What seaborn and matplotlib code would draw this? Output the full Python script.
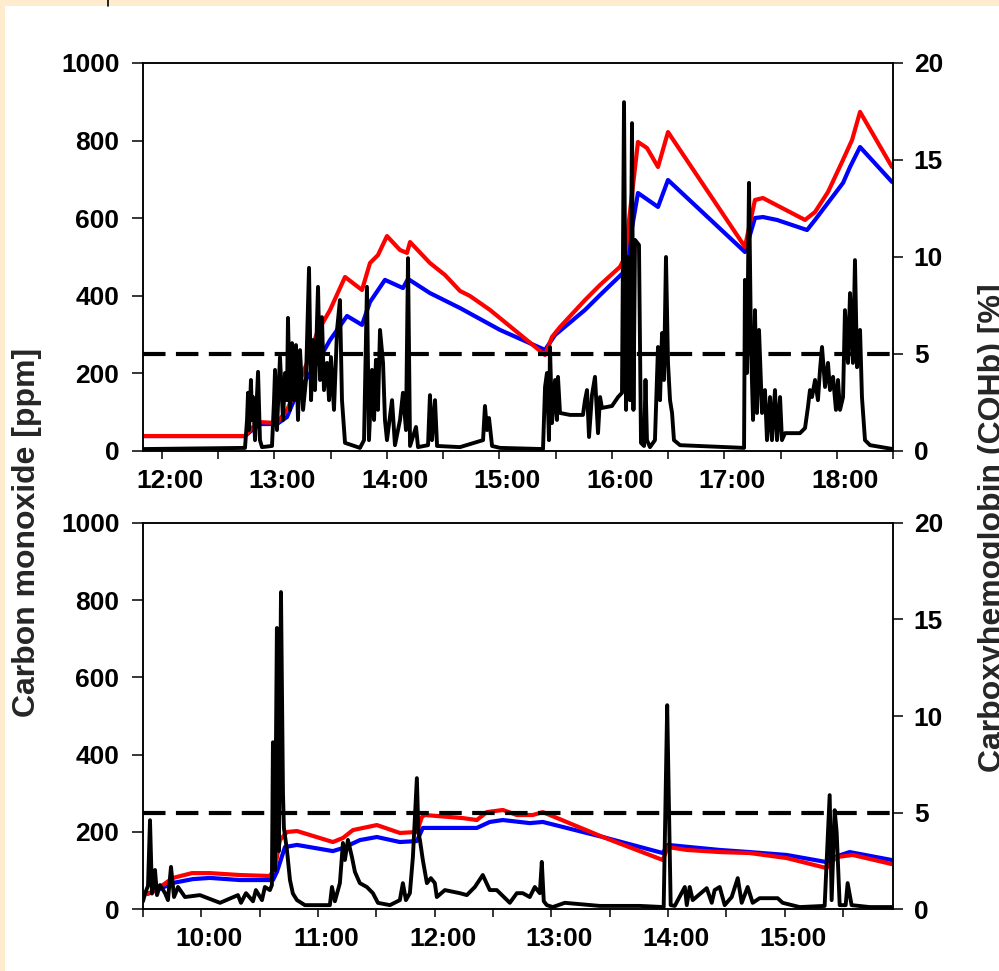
import numpy as np
import pandas as pd
import seaborn as sns
import matplotlib
matplotlib.use("Agg")
import matplotlib.pyplot as plt
from matplotlib.ticker import FixedLocator, FuncFormatter, NullFormatter
from matplotlib.transforms import ScaledTranslation
from matplotlib.patches import Rectangle
from matplotlib.lines import Line2D

# ---------------- data (time in decimal hours) ----------------
THRESHOLD_PPM = 250

# top panel: carbon monoxide [ppm]
top_co_time = [11.833, 12.740, 12.758, 12.767, 12.776, 12.793, 12.802, 12.811, 12.829, 12.856,
               12.873, 12.891, 12.980, 12.998, 13.007, 13.024, 13.051, 13.078, 13.096, 13.113,
               13.122, 13.140, 13.158, 13.176, 13.193, 13.211, 13.229, 13.256, 13.282, 13.309,
               13.327, 13.344, 13.362, 13.389, 13.407, 13.424, 13.442, 13.469, 13.487, 13.504,
               13.531, 13.558, 13.584, 13.602, 13.629, 13.762, 13.798, 13.824, 13.842, 13.869,
               13.887, 13.904, 13.922, 13.940, 13.967, 13.984, 14.002, 14.047, 14.073, 14.118,
               14.144, 14.171, 14.189, 14.207, 14.260, 14.278, 14.367, 14.384, 14.402, 14.429,
               14.447, 14.651, 14.856, 14.873, 14.891, 14.909, 14.936, 15.007, 15.389,
               15.407, 15.424, 15.442, 15.451, 15.469, 15.496, 15.513, 15.522, 15.540, 15.629,
               15.744, 15.762, 15.780, 15.798, 15.824, 15.851, 15.878, 15.896, 15.913, 16.002,
               16.038, 16.056, 16.091, 16.109, 16.127, 16.144, 16.162, 16.180, 16.193, 16.207,
               16.242, 16.260, 16.287, 16.300, 16.313, 16.340, 16.384, 16.411, 16.429, 16.447,
               16.464, 16.482, 16.500, 16.518, 16.536, 16.553, 16.607, 17.176, 17.184, 17.202,
               17.220, 17.238, 17.256, 17.273, 17.291, 17.309, 17.336, 17.362, 17.380, 17.407,
               17.424, 17.451, 17.469, 17.496, 17.513, 17.540, 17.673, 17.718, 17.744, 17.762,
               17.780, 17.807, 17.833, 17.851, 17.869, 17.896, 17.922, 17.940, 17.967, 17.993,
               18.011, 18.029, 18.056, 18.073, 18.100, 18.118, 18.144, 18.162, 18.180, 18.207,
               18.224, 18.251, 18.296, 18.500]
top_co_ppm = [5, 8, 80, 150, 54, 183, 80, 139, 28, 204,
              28, 10, 13, 131, 209, 54, 242, 80, 201, 131,
              343, 106, 278, 131, 273, 80, 260, 106, 183, 472,
              131, 286, 157, 423, 183, 345, 157, 227, 131, 242,
              106, 312, 389, 131, 21, 8, 28, 423, 28, 209,
              80, 235, 106, 312, 227, 80, 28, 131, 15, 80,
              150, 54, 497, 13, 62, 10, 15, 144, 28, 131,
              13, 10, 28, 116, 54, 85, 13, 8, 5,
              165, 201, 28, 268, 72, 183, 80, 191, 98, 93,
              93, 131, 157, 36, 144, 191, 46, 139, 111, 116,
              131, 139, 150, 899, 106, 500, 131, 845, 106, 544,
              531, 21, 13, 183, 28, 10, 28, 268, 131, 304,
              183, 500, 227, 131, 98, 28, 15, 8, 441, 201,
              691, 268, 80, 363, 98, 312, 98, 157, 28, 139,
              28, 157, 28, 139, 28, 46, 46, 59, 113, 157,
              139, 183, 131, 209, 268, 165, 227, 157, 191, 106,
              183, 106, 139, 363, 227, 407, 227, 492, 216, 312,
              139, 28, 15, 5]

# top panel: carboxyhemoglobin [%]
top_red_time = [11.833, 12.740, 12.802, 12.873, 13.024, 13.113, 13.202, 13.291, 13.380, 13.496,
                13.629, 13.780, 13.851, 13.922, 14.002, 14.118, 14.180, 14.207, 14.384, 14.518,
                14.651, 14.740, 14.918, 15.407, 15.469, 15.540, 15.762, 15.896, 16.073, 16.118,
                16.144, 16.233, 16.313, 16.411, 16.500, 17.184, 17.273, 17.344, 17.496, 17.718,
                17.807, 17.922, 18.047, 18.136, 18.207, 18.491]
top_red_pct = [0.77, 0.77, 1.19, 1.49, 1.44, 2.11, 3.25, 4.54, 6.08, 7.27,
               8.97, 8.30, 9.69, 10.10, 11.08, 10.36, 10.21, 10.77, 9.69, 9.07,
               8.25, 7.99, 7.27, 4.95, 5.88, 6.39, 7.78, 8.56, 9.49, 10.00,
               11.39, 15.93, 15.62, 14.64, 16.44, 10.52, 12.94, 13.04, 12.58, 11.91,
               12.32, 13.35, 14.90, 16.03, 17.48, 14.64]
top_blue_time = [11.833, 12.740, 12.802, 12.873, 13.024, 13.113, 13.202, 13.380, 13.496, 13.647,
                 13.780, 13.851, 13.984, 14.144, 14.189, 14.384, 14.651, 15.007, 15.407, 15.496,
                 15.762, 15.896, 16.100, 16.136, 16.233, 16.411, 16.500, 17.184, 17.273, 17.344,
                 17.469, 17.736, 17.807, 18.056, 18.118, 18.207, 18.491]
top_blue_pct = [0.77, 0.77, 1.08, 1.39, 1.39, 1.75, 2.99, 4.54, 5.72, 6.96,
                6.50, 7.68, 8.82, 8.40, 8.87, 8.14, 7.37, 6.24, 5.21, 5.98,
                7.27, 8.04, 9.18, 10.00, 13.30, 12.58, 13.97, 10.26, 12.01, 12.06,
                11.91, 11.39, 11.91, 13.82, 14.64, 15.67, 13.87]

# bottom panel: carbon monoxide [ppm]
bot_co_time = [9.500, 9.517, 9.543, 9.560, 9.577, 9.603, 9.620, 9.646, 9.689, 9.714,
               9.740, 9.766, 9.800, 9.860, 9.988, 10.160, 10.314, 10.340, 10.383, 10.443,
               10.468, 10.520, 10.545, 10.588, 10.605, 10.614, 10.631, 10.648, 10.665, 10.683,
               10.700, 10.708, 10.734, 10.760, 10.785, 10.820, 10.888, 11.102, 11.120, 11.145,
               11.188, 11.214, 11.231, 11.257, 11.291, 11.317, 11.359, 11.419, 11.471, 11.514,
               11.617, 11.702, 11.728, 11.754, 11.788, 11.814, 11.848, 11.861, 11.874, 11.899,
               11.934, 11.968, 12.002, 12.019, 12.088, 12.216, 12.276, 12.345, 12.413, 12.473,
               12.533, 12.645, 12.705, 12.756, 12.816, 12.859, 12.902, 12.919, 12.936, 12.962,
               13.013, 13.116, 13.416, 13.759, 13.964, 13.994, 14.007, 14.024, 14.059, 14.145,
               14.162, 14.187, 14.213, 14.333, 14.376, 14.401, 14.444, 14.487, 14.547, 14.599,
               14.633, 14.684, 14.727, 14.787, 14.873, 14.941, 14.984, 15.130, 15.344, 15.387,
               15.404, 15.430, 15.447, 15.473, 15.524, 15.541, 15.575, 15.730, 15.918]
bot_co_ppm = [20, 40, 60, 230, 40, 101, 36, 62, 41, 23,
              109, 31, 57, 31, 36, 16, 36, 16, 41, 20,
              49, 23, 57, 49, 62, 432, 100, 728, 150, 821,
              300, 210, 153, 75, 40, 23, 10, 10, 57, 20,
              67, 171, 127, 179, 135, 96, 67, 57, 41, 16,
              10, 23, 67, 23, 41, 135, 339, 197, 179, 127,
              67, 80, 67, 31, 49, 41, 36, 57, 88, 49,
              49, 16, 41, 41, 31, 57, 41, 122, 20, 10,
              5, 16, 8, 8, 5, 528, 300, 10, 8, 57,
              10, 57, 23, 54, 16, 49, 57, 10, 31, 80,
              16, 57, 16, 28, 28, 28, 16, 5, 8, 295,
              23, 256, 199, 10, 10, 67, 10, 5, 5]

# bottom panel: carboxyhemoglobin [%]
bot_red_time = [9.500, 9.560, 9.646, 9.757, 9.920, 10.074, 10.331, 10.588, 10.631, 10.674,
                10.734, 10.820, 11.128, 11.214, 11.300, 11.505, 11.702, 11.848, 11.891, 11.916,
                12.242, 12.362, 12.448, 12.585, 12.705, 12.842, 12.928, 13.442, 13.956, 13.999,
                14.162, 14.444, 14.701, 15.018, 15.361, 15.404, 15.447, 15.584, 15.918]
bot_red_pct = [0.73, 0.83, 1.14, 1.61, 1.86, 1.86, 1.76, 1.71, 2.12, 3.57,
               3.99, 4.04, 3.47, 3.68, 4.09, 4.35, 3.94, 3.99, 4.77, 4.87,
               4.71, 4.61, 5.02, 5.13, 4.87, 4.87, 5.02, 3.73, 2.54, 3.21,
               3.06, 2.95, 2.90, 2.64, 2.12, 2.43, 2.69, 2.80, 2.33]
bot_blue_time = [9.500, 9.560, 9.663, 9.757, 9.928, 10.074, 10.331, 10.614, 10.648, 10.717,
                 10.820, 11.128, 11.214, 11.359, 11.505, 11.702, 11.848, 11.899, 12.362, 12.473,
                 12.585, 12.816, 12.928, 13.442, 13.956, 13.999, 14.444, 14.701, 15.018, 15.361,
                 15.404, 15.558, 15.918]
bot_blue_pct = [0.73, 0.83, 1.09, 1.35, 1.55, 1.61, 1.50, 1.50, 1.92, 3.21,
                3.32, 3.00, 3.16, 3.57, 3.73, 3.47, 3.52, 4.20, 4.20, 4.51,
                4.61, 4.45, 4.51, 3.73, 2.90, 3.32, 3.06, 2.95, 2.80, 2.43,
                2.64, 2.95, 2.54]

top_xlim = (11.8333, 18.5)
top_hours = [12, 13, 14, 15, 16, 17, 18]
top_half = [12.5, 13.5, 14.5, 15.5, 16.5, 17.5, 18.5]
bot_xlim = (9.5, 15.93)
bot_hours = [10, 11, 12, 13, 14, 15]
bot_half = [9.5, 10.5, 11.5, 12.5, 13.5, 14.5, 15.5]
ppm_ticks = [0, 200, 400, 600, 800, 1000]
pct_ticks = [0, 5, 10, 15, 20]

# ---------------- style ----------------
sns.set_style("ticks")
plt.rcParams["font.family"] = ["Liberation Sans", "DejaVu Sans"]
plt.rcParams["font.weight"] = "bold"
plt.rcParams["axes.edgecolor"] = "black"
plt.rcParams["xtick.color"] = "black"
plt.rcParams["ytick.color"] = "black"
plt.rcParams["axes.linewidth"] = 1.1

fig = plt.figure(figsize=(9.99, 9.71), dpi=100, facecolor="#FFEBCD")
fig.add_artist(Rectangle((5 / 999, 0), 1, 1 - 6 / 971, transform=fig.transFigure,
                         facecolor="white", edgecolor="none", zorder=-5))
fig.add_artist(Line2D([108 / 999, 108 / 999], [1 - 6 / 971, 1], transform=fig.transFigure,
                      color="black", lw=1.2))

label_shift = ScaledTranslation(8 / 100, 0, fig.dpi_scale_trans)


def panel(rect, xlim, hours, halfs, co_t, co_v, r_t, r_v, b_t, b_v):
    ax = fig.add_axes(rect)
    ax2 = ax.twinx()
    ax.set_zorder(ax2.get_zorder() + 1)
    ax.patch.set_visible(False)

    sns.lineplot(x=b_t, y=b_v, ax=ax2, color="#0000FF", lw=3.0, estimator=None, sort=False,
                 solid_joinstyle="round", solid_capstyle="round")
    sns.lineplot(x=r_t, y=r_v, ax=ax2, color="#FF0000", lw=3.0, estimator=None, sort=False,
                 solid_joinstyle="round", solid_capstyle="round")
    sns.lineplot(x=co_t, y=co_v, ax=ax, color="black", lw=2.8, estimator=None, sort=False,
                 solid_joinstyle="round", solid_capstyle="round")
    ax.axhline(THRESHOLD_PPM, color="black", lw=3.0, dashes=(5.4, 2.5))

    ax.set_xlim(*xlim)
    ax.set_ylim(0, 1000)
    ax2.set_ylim(0, 20)
    ax.xaxis.set_major_locator(FixedLocator(hours))
    ax.xaxis.set_minor_locator(FixedLocator(halfs))
    ax.xaxis.set_major_formatter(FuncFormatter(lambda v, p: f"{int(round(v))}:00"))
    ax.xaxis.set_minor_formatter(NullFormatter())
    ax.set_yticks(ppm_ticks)
    ax2.set_yticks(pct_ticks)
    ax.set_xlabel("")
    ax.set_ylabel("")
    ax2.set_ylabel("")

    ax.tick_params(axis="x", which="both", length=6, width=1.1, direction="out",
                   labelsize=19, pad=7)
    ax.tick_params(axis="y", length=8, width=1.1, direction="out", labelsize=19, pad=9)
    ax2.tick_params(axis="y", length=7, width=1.1, direction="out", labelsize=19, pad=8)
    for lab in ax.get_xticklabels() + ax.get_yticklabels() + ax2.get_yticklabels():
        lab.set_fontweight("bold")
    for lab in ax.get_xticklabels():
        lab.set_transform(lab.get_transform() + label_shift)
    for a in (ax, ax2):
        for s in a.spines.values():
            s.set_visible(True)
            s.set_color("black")
            s.set_linewidth(1.1)
    return ax, ax2


panel([143 / 999, 1 - 451 / 971, 750 / 999, 388 / 971], top_xlim, top_hours, top_half,
      top_co_time, top_co_ppm, top_red_time, top_red_pct, top_blue_time, top_blue_pct)
panel([143 / 999, 1 - 909 / 971, 750 / 999, 386 / 971], bot_xlim, bot_hours, bot_half,
      bot_co_time, bot_co_ppm, bot_red_time, bot_red_pct, bot_blue_time, bot_blue_pct)

fig.text(27 / 999, 1 - 532 / 971, "Carbon monoxide [ppm]", rotation=90, ha="center",
         va="center", fontsize=23, fontweight="bold")
fig.text(993 / 999, 1 - 528 / 971, "Carboxyhemoglobin (COHb) [%]", rotation=90, ha="center",
         va="center", fontsize=23, fontweight="bold")

fig.savefig("out.png", dpi=100, facecolor=fig.get_facecolor())
